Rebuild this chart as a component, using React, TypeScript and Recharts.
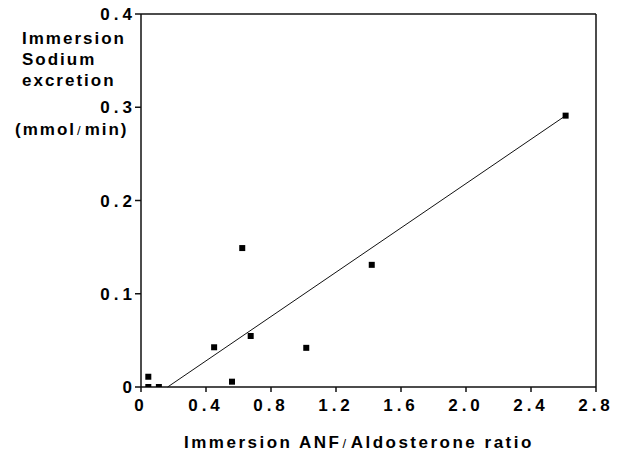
import React from "react";
import {
  ScatterChart,
  Scatter,
  XAxis,
  YAxis,
  ReferenceLine,
} from "recharts";

const ratioX = [0.045, 0.045, 0.11, 0.45, 0.56, 0.623, 0.675, 1.017, 1.42, 2.613];
const sodiumY = [0.011, 0.0, 0.0, 0.0426, 0.0057, 0.149, 0.0547, 0.042, 0.131, 0.291];

const fitX = [0.164, 2.613];
const fitY = [0.0, 0.291];

const xTicks = [0, 0.4, 0.8, 1.2, 1.6, 2.0, 2.4, 2.8];
const yTicks = [0, 0.1, 0.2, 0.3, 0.4];

const yLabelLines = ["Immersion", "Sodium", "excretion"];
const yUnitParts = ["(mmol", "/", "min)"];
const xLabelParts = ["Immersion ANF", "/", "Aldosterone ratio"];

const points = ratioX.map((x, i) => ({ x, y: sodiumY[i] }));

const FONT = "'Liberation Sans', Arial, Helvetica, sans-serif";

const fmt = (v: number) => (v === 0 ? "0" : v.toFixed(1));

const Square = (props: any) => {
  const { cx, cy } = props;
  return <rect x={cx - 3} y={cy - 3} width={6} height={6} fill="#000" />;
};

const YLabel = () => (
  <g>
    {yLabelLines.map((t, i) => (
      <text
        key={t}
        x={22}
        y={44 + i * 21}
        fontFamily={FONT}
        fontWeight="bold"
        fontSize={17}
        letterSpacing={2}
        fill="#000"
      >
        {t}
      </text>
    ))}
    <text
      x={15}
      y={135}
      fontFamily={FONT}
      fontWeight="bold"
      fontSize={17}
      letterSpacing={2}
      fill="#000"
    >
      <tspan>{yUnitParts[0]}</tspan>
      <tspan dx={1} fontWeight="normal" fontSize={13}>{yUnitParts[1]}</tspan>
      <tspan dx={2}>{yUnitParts[2]}</tspan>
    </text>
  </g>
);

const XLabel = () => (
  <text
    x={184}
    y={448}
    fontFamily={FONT}
    fontWeight="bold"
    fontSize={17}
    letterSpacing={2.5}
    fill="#000"
  >
    <tspan>{xLabelParts[0]}</tspan>
    <tspan dx={1} fontWeight="normal" fontSize={13}>{xLabelParts[1]}</tspan>
    <tspan dx={2}>{xLabelParts[2]}</tspan>
  </text>
);

const tickStyle = {
  fill: "#000",
  fontSize: 17,
  fontWeight: "bold",
  fontFamily: FONT,
  letterSpacing: 4,
};

export default function App() {
  return (
    <div style={{ position: "absolute", left: 0, top: 0, background: "#fff" }}>
      <ScatterChart
        width={623}
        height={453}
        margin={{ top: 14, right: 27, bottom: 36, left: 81 }}
      >
        <XAxis
          type="number"
          dataKey="x"
          domain={[0, 2.8]}
          ticks={xTicks}
          tickFormatter={fmt}
          height={30}
          tickSize={5}
          tickMargin={7}
          stroke="#111"
          strokeWidth={1.5}
          tick={tickStyle}
          label={{ content: () => <XLabel /> }}
          allowDataOverflow
        />
        <YAxis
          type="number"
          dataKey="y"
          domain={[0, 0.4]}
          ticks={yTicks}
          tickFormatter={fmt}
          width={60}
          tickSize={6}
          tickMargin={-1}
          stroke="#111"
          strokeWidth={1.5}
          tick={tickStyle}
          label={{ content: () => <YLabel /> }}
          allowDataOverflow
        />
        <ReferenceLine y={0.4} stroke="#111" strokeWidth={1.5} />
        <ReferenceLine x={2.8} stroke="#111" strokeWidth={1.5} />
        <ReferenceLine
          segment={[
            { x: fitX[0], y: fitY[0] },
            { x: fitX[1], y: fitY[1] },
          ]}
          stroke="#111"
          strokeWidth={1}
        />
        <Scatter data={points} shape={Square} isAnimationActive={false} />
      </ScatterChart>
    </div>
  );
}
